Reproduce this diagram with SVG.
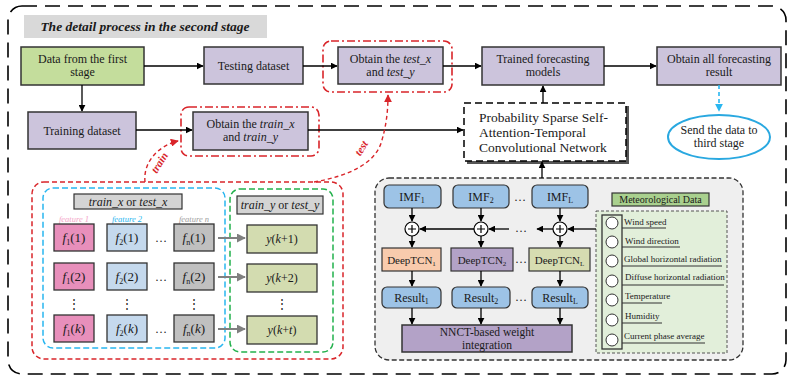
<svg xmlns="http://www.w3.org/2000/svg" width="791" height="377" viewBox="0 0 791 377">
<defs>
<marker id="ab" viewBox="0 0 10 10" refX="9" refY="5" markerWidth="7" markerHeight="7" orient="auto" markerUnits="userSpaceOnUse"><path d="M0,0 L10,5 L0,10 z" fill="#000"/></marker>
<marker id="ag" viewBox="0 0 10 10" refX="9" refY="5" markerWidth="9" markerHeight="9" orient="auto" markerUnits="userSpaceOnUse"><path d="M0,0 L10,5 L0,10 z" fill="#808080"/></marker>
<marker id="ar" viewBox="0 0 10 10" refX="9" refY="5" markerWidth="8" markerHeight="8" orient="auto" markerUnits="userSpaceOnUse"><path d="M0,0 L10,5 L0,10 z" fill="#d9252a"/></marker>
<marker id="ac" viewBox="0 0 10 10" refX="9" refY="5" markerWidth="8" markerHeight="8" orient="auto" markerUnits="userSpaceOnUse"><path d="M0,0 L10,5 L0,10 z" fill="#29b6f0"/></marker>
</defs>
<style>
text{font-family:"Liberation Serif","Times New Roman",serif;fill:#1a1a1a}
.lav{fill:#ccc4dc;stroke:#333;stroke-width:1.5}
.t12{font-size:12px;text-anchor:middle}
.t13{font-size:13px;text-anchor:middle}
.blue{fill:#9dc3e6;stroke:#333;stroke-width:1.2}
.ln{stroke:#000;stroke-width:1.3;fill:none}
.rdd{fill:none;stroke:#d9252a;stroke-width:1.6;stroke-dasharray:8 3 2 3}
.fb{stroke:#333;stroke-width:1.3}
.ml{font-size:9px}
.ul{stroke:#333;stroke-width:1}
.it{font-style:italic}
</style>
<rect x="8" y="6" width="778" height="368" rx="14" fill="none" stroke="#000" stroke-width="1.6" stroke-dasharray="15 8"/>
<g id="title">
<rect x="24" y="15" width="243" height="23" fill="#d9d9d9"/>
<text x="145" y="31" font-size="13.5" font-weight="bold" font-style="italic" text-anchor="middle">The detail process in the second stage</text>
</g>
<g id="data-first">
<rect x="21" y="47" width="123" height="38" fill="#c4dd9c" stroke="#333" stroke-width="1.5"/>
<text class="t12" x="82.5" y="63">Data from the first</text>
<text class="t12" x="82.5" y="76">stage</text>
</g>
<g id="testing">
<rect class="lav" x="204" y="47" width="99" height="37"/>
<text class="t12" x="253.5" y="70">Testing dataset</text>
</g>
<g id="obtain-test">
<rect class="rdd" x="323" y="41" width="129" height="51" rx="8"/>
<rect class="lav" x="338" y="47" width="105" height="37"/>
<text class="t12" x="390.5" y="63">Obtain the <tspan class="it">test_x</tspan></text>
<text class="t12" x="390.5" y="76">and <tspan class="it">test_y</tspan></text>
</g>
<g id="trained">
<rect class="lav" x="482" y="47" width="122" height="38"/>
<text class="t12" x="543" y="63">Trained forecasting</text>
<text class="t12" x="543" y="76">models</text>
</g>
<g id="obtain-all">
<rect class="lav" x="657" y="47" width="124" height="38"/>
<text class="t12" x="719" y="63">Obtain all forecasting</text>
<text class="t12" x="719" y="76">result</text>
</g>
<g id="training">
<rect class="lav" x="28" y="112" width="108" height="37"/>
<text class="t12" x="82" y="135">Training dataset</text>
</g>
<g id="obtain-train">
<rect class="rdd" x="181" y="107" width="138" height="49" rx="8"/>
<rect class="lav" x="193" y="112" width="115" height="38"/>
<text class="t12" x="250.5" y="128">Obtain the <tspan class="it">train_x</tspan></text>
<text class="t12" x="250.5" y="141">and <tspan class="it">train_y</tspan></text>
</g>
<g id="pssa">
<rect x="467" y="106" width="162" height="58" fill="#555"/>
<rect x="464" y="103" width="162" height="58" fill="#fff" stroke="#000" stroke-width="1.5" stroke-dasharray="7 4"/>
<text x="479" y="122" font-size="13.5">Probability Sparse Self-</text>
<text x="479" y="137" font-size="13.5">Attention-Temporal</text>
<text x="479" y="152" font-size="13.5">Convolutional Network</text>
</g>
<g id="send">
<ellipse cx="719" cy="137" rx="51" ry="22" fill="#fff" stroke="#29a8e0" stroke-width="2"/>
<text class="t12" x="719" y="134">Send the data to</text>
<text class="t12" x="719" y="147">third stage</text>
</g>
<g id="dataset-panel">
<rect x="32" y="182" width="311" height="177" rx="12" fill="none" stroke="#d9252a" stroke-width="1.5" stroke-dasharray="5 3"/>
<rect x="43" y="188" width="182" height="160" rx="10" fill="none" stroke="#29b6f0" stroke-width="1.5" stroke-dasharray="6 3"/>
<rect x="230" y="189" width="103" height="163" rx="10" fill="none" stroke="#22b14c" stroke-width="1.5" stroke-dasharray="6 3"/>
<rect x="74" y="194" width="108" height="15" fill="#d4d4d4" stroke="#333" stroke-width="1.2"/>
<text class="t12" x="128" y="206"><tspan class="it">train_x</tspan> or <tspan class="it">test_x</tspan></text>
<rect x="237" y="196" width="86" height="18" fill="#d4d4d4" stroke="#333" stroke-width="1.2"/>
<text class="t12" x="280" y="209"><tspan class="it">train_y</tspan> or <tspan class="it">test_y</tspan></text>
<text x="74" y="222" font-size="8.5" font-style="italic" text-anchor="middle" style="fill:#f4a6c8">feature 1</text>
<text x="127" y="222" font-size="8.5" font-style="italic" text-anchor="middle" style="fill:#29b6f0">feature 2</text>
<text x="194" y="222" font-size="8.5" font-style="italic" text-anchor="middle" style="fill:#a0a0a0">feature n</text>
<g id="f1-col">
<rect class="fb" x="54" y="224" width="40" height="27" fill="#e88fbb"/>
<rect class="fb" x="54" y="263" width="40" height="27" fill="#e88fbb"/>
<rect class="fb" x="54" y="315" width="40" height="27" fill="#e88fbb"/>
<text class="t13" x="74" y="242"><tspan class="it">f</tspan><tspan font-size="8" dy="3">1</tspan><tspan dy="-3">(1)</tspan></text>
<text class="t13" x="74" y="281"><tspan class="it">f</tspan><tspan font-size="8" dy="3">1</tspan><tspan dy="-3">(2)</tspan></text>
<text class="t13" x="74" y="333"><tspan class="it">f</tspan><tspan font-size="8" dy="3">1</tspan><tspan dy="-3">(</tspan><tspan class="it">k</tspan>)</text>
</g>
<g id="f2-col">
<rect class="fb" x="107" y="224" width="40" height="27" fill="#c5d9ed"/>
<rect class="fb" x="107" y="263" width="40" height="27" fill="#c5d9ed"/>
<rect class="fb" x="107" y="315" width="40" height="27" fill="#c5d9ed"/>
<text class="t13" x="127" y="242"><tspan class="it">f</tspan><tspan font-size="8" dy="3">2</tspan><tspan dy="-3">(1)</tspan></text>
<text class="t13" x="127" y="281"><tspan class="it">f</tspan><tspan font-size="8" dy="3">2</tspan><tspan dy="-3">(2)</tspan></text>
<text class="t13" x="127" y="333"><tspan class="it">f</tspan><tspan font-size="8" dy="3">2</tspan><tspan dy="-3">(</tspan><tspan class="it">k</tspan>)</text>
</g>
<g id="fn-col">
<rect class="fb" x="174" y="224" width="40" height="27" fill="#c0c0c0"/>
<rect class="fb" x="174" y="263" width="40" height="27" fill="#c0c0c0"/>
<rect class="fb" x="174" y="315" width="40" height="27" fill="#c0c0c0"/>
<text class="t13" x="194" y="242"><tspan class="it">f</tspan><tspan font-size="8" dy="3">n</tspan><tspan dy="-3">(1)</tspan></text>
<text class="t13" x="194" y="281"><tspan class="it">f</tspan><tspan font-size="8" dy="3">n</tspan><tspan dy="-3">(2)</tspan></text>
<text class="t13" x="194" y="333"><tspan class="it">f</tspan><tspan font-size="8" dy="3">n</tspan><tspan dy="-3">(</tspan><tspan class="it">k</tspan>)</text>
</g>
<text class="t12" x="161" y="242">…</text>
<text class="t12" x="161" y="281">…</text>
<text class="t12" x="161" y="333">…</text>
<text class="t12" x="74" y="308">⋮</text>
<text class="t12" x="127" y="308">⋮</text>
<text class="t12" x="194" y="308">⋮</text>
<text class="t12" x="282" y="308">⋮</text>
<g id="y-col">
<rect class="fb" x="247" y="225" width="70" height="28" fill="#d3dcb0"/>
<rect class="fb" x="247" y="264" width="70" height="28" fill="#d3dcb0"/>
<rect class="fb" x="247" y="316" width="70" height="28" fill="#d3dcb0"/>
<text class="t12" x="282" y="243"><tspan class="it">y</tspan>(<tspan class="it">k</tspan>+1)</text>
<text class="t12" x="282" y="282"><tspan class="it">y</tspan>(<tspan class="it">k</tspan>+2)</text>
<text class="t12" x="282" y="334"><tspan class="it">y</tspan>(<tspan class="it">k</tspan>+<tspan class="it">t</tspan>)</text>
</g>
</g>
<g id="model-panel">
<rect x="375" y="178" width="368" height="182" rx="14" fill="#efefef" stroke="#333" stroke-width="1.3" stroke-dasharray="5 2.5"/>
<g id="imf">
<rect class="blue" x="384" y="185" width="57" height="23" rx="5"/>
<rect class="blue" x="453" y="185" width="56" height="23" rx="5"/>
<rect class="blue" x="532" y="185" width="56" height="23" rx="5"/>
<text class="t12" x="412" y="201">IMF<tspan font-size="8" dy="2">1</tspan></text>
<text class="t12" x="481" y="201">IMF<tspan font-size="8" dy="2">2</tspan></text>
<text class="t12" x="560" y="201">IMF<tspan font-size="8" dy="2">L</tspan></text>
<text class="t12" x="520" y="201">…</text>
</g>
<g id="plus">
<circle cx="412" cy="229" r="7" fill="#fff" stroke="#000" stroke-width="1.2"/>
<circle cx="481" cy="229" r="7" fill="#fff" stroke="#000" stroke-width="1.2"/>
<circle cx="560" cy="229" r="7" fill="#fff" stroke="#000" stroke-width="1.2"/>
<path d="M408,229h8M412,225v8M477,229h8M481,225v8M556,229h8M560,225v8" stroke="#000" stroke-width="1.2"/>
<text class="t12" x="521" y="232">…</text>
</g>
<g id="deeptcn">
<rect x="382" y="248" width="59" height="23" fill="#f8cbad" stroke="#333" stroke-width="1.2"/>
<rect x="451" y="248" width="62" height="23" fill="#b3a2c7" stroke="#333" stroke-width="1.2"/>
<rect x="529" y="248" width="61" height="23" fill="#d6dcb1" stroke="#333" stroke-width="1.2"/>
<text x="411.5" y="264" font-size="11" text-anchor="middle">DeepTCN<tspan font-size="7" dy="2">1</tspan></text>
<text x="482" y="264" font-size="11" text-anchor="middle">DeepTCN<tspan font-size="7" dy="2">2</tspan></text>
<text x="559.5" y="264" font-size="11" text-anchor="middle">DeepTCN<tspan font-size="7" dy="2">L</tspan></text>
<text class="t12" x="521" y="263">…</text>
</g>
<g id="results">
<rect class="blue" x="382" y="287" width="59" height="21" rx="5"/>
<rect class="blue" x="452" y="287" width="58" height="21" rx="5"/>
<rect class="blue" x="532" y="287" width="56" height="21" rx="5"/>
<text class="t12" x="411.5" y="302">Result<tspan font-size="8" dy="2">1</tspan></text>
<text class="t12" x="481" y="302">Result<tspan font-size="8" dy="2">2</tspan></text>
<text class="t12" x="560" y="302">Result<tspan font-size="8" dy="2">L</tspan></text>
<text class="t12" x="521" y="301">…</text>
</g>
<g id="nnct">
<rect x="402" y="325" width="170" height="27" fill="#b3a2c7" stroke="#333" stroke-width="1.5"/>
<text x="487" y="336" font-size="11.5" text-anchor="middle">NNCT-based weight</text>
<text x="487" y="348.5" font-size="11.5" text-anchor="middle">integration</text>
</g>
<g id="meteo">
<rect x="612" y="193" width="97" height="13" fill="#a9d08e" stroke="#333" stroke-width="1.2"/>
<text x="660.5" y="203" font-size="10" text-anchor="middle">Meteorological Data</text>
<rect x="596" y="211" width="131" height="142" fill="#e2efda" stroke="#555" stroke-width="1" stroke-dasharray="3 2"/>
<rect x="602" y="215" width="20" height="134" fill="#e2efda" stroke="#333" stroke-width="1.3"/>
<g fill="#fff" stroke="#333" stroke-width="1">
<circle cx="612" cy="223" r="6"/><circle cx="612" cy="242" r="6"/><circle cx="612" cy="261" r="6"/><circle cx="612" cy="281" r="6"/><circle cx="612" cy="300" r="6"/><circle cx="612" cy="320" r="6"/><circle cx="612" cy="340" r="6"/>
</g>
<text class="ml" x="624" y="225">Wind speed</text>
<text class="ml" x="625" y="244">Wind direction</text>
<text class="ml" x="624" y="262">Global horizontal radiation</text>
<text class="ml" x="625" y="280">Diffuse horizontal radiation</text>
<text class="ml" x="625" y="299">Temperature</text>
<text class="ml" x="625" y="319">Humidity</text>
<text class="ml" x="624" y="339">Current phase average</text>
<path class="ul" d="M622,228H666M622,247H680M622,266H722M622,285H724M622,303H662M622,323H662M622,343H705"/>
</g>
</g>
<g id="connectors">
<path class="ln" d="M144,66H203" marker-end="url(#ab)"/>
<path class="ln" d="M303,66H337" marker-end="url(#ab)"/>
<path class="ln" d="M443,66H481" marker-end="url(#ab)"/>
<path class="ln" d="M604,66H656" marker-end="url(#ab)"/>
<path class="ln" d="M82,85V111" marker-end="url(#ab)"/>
<path class="ln" d="M136,130H192" marker-end="url(#ab)"/>
<path class="ln" d="M308,130H463" marker-end="url(#ab)"/>
<path class="ln" d="M543,103V86" marker-end="url(#ab)"/>
<path class="ln" d="M542,178V162" marker-end="url(#ab)"/>
<path d="M719,85V111" fill="none" stroke="#29b6f0" stroke-width="1.6" stroke-dasharray="4 3" marker-end="url(#ac)"/>
<path d="M145,182C143,162 158,146 178,141" fill="none" stroke="#d9252a" stroke-width="1.4" stroke-dasharray="4 3" marker-end="url(#ar)"/>
<text x="160" y="166" font-size="11" font-weight="bold" font-style="italic" transform="rotate(-58 160 163)" text-anchor="middle" style="fill:#d9252a">train</text>
<path d="M314,182C348,176 376,164 382,140C386,126 388,112 388,95" fill="none" stroke="#d9252a" stroke-width="1.4" stroke-dasharray="4 3" marker-end="url(#ar)"/>
<text x="361" y="152" font-size="11" font-weight="bold" font-style="italic" transform="rotate(-58 361 148)" text-anchor="middle" style="fill:#d9252a">test</text>
<path d="M218,238H245" stroke="#808080" stroke-width="2" marker-end="url(#ag)"/>
<path d="M218,277H245" stroke="#808080" stroke-width="2" marker-end="url(#ag)"/>
<path d="M218,329H245" stroke="#808080" stroke-width="2" marker-end="url(#ag)"/>
<path class="ln" d="M412,208V221" marker-end="url(#ab)"/>
<path class="ln" d="M481,208V221" marker-end="url(#ab)"/>
<path class="ln" d="M560,208V221" marker-end="url(#ab)"/>
<path class="ln" d="M412,236V247" marker-end="url(#ab)"/>
<path class="ln" d="M481,236V247" marker-end="url(#ab)"/>
<path class="ln" d="M560,236V247" marker-end="url(#ab)"/>
<path class="ln" d="M412,271V286" marker-end="url(#ab)"/>
<path class="ln" d="M481,271V286" marker-end="url(#ab)"/>
<path class="ln" d="M560,271V286" marker-end="url(#ab)"/>
<path class="ln" d="M412,308V324" marker-end="url(#ab)"/>
<path class="ln" d="M481,308V324" marker-end="url(#ab)"/>
<path class="ln" d="M560,308V324" marker-end="url(#ab)"/>
<path class="ln" d="M596,229H568" marker-end="url(#ab)"/>
<path class="ln" d="M553,229H537" marker-end="url(#ab)"/>
<path class="ln" d="M509,229H489" marker-end="url(#ab)"/>
<path class="ln" d="M474,229H420" marker-end="url(#ab)"/>
</g>
</svg>
